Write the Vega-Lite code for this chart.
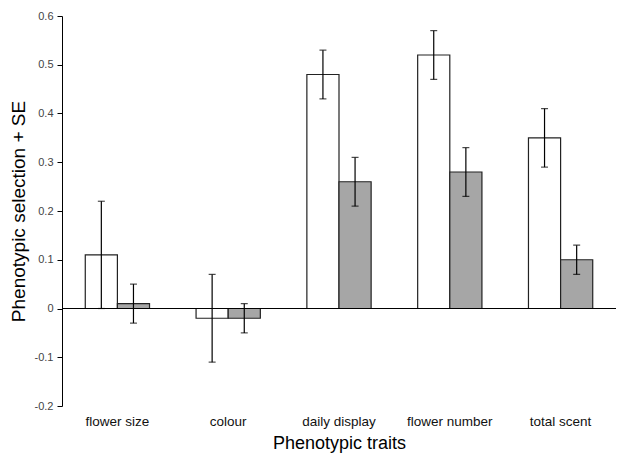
{
  "$schema": "https://vega.github.io/schema/vega-lite/v6.json",
  "width": 554,
  "height": 390,
  "autosize": "none",
  "padding": {"left": 62, "top": 16, "right": 13, "bottom": 60},
  "background": "white",
  "config": {"view": {"stroke": null}, "font": "Liberation Sans"},
  "data": {"values": [
    {"trait": "flower size", "group": "A", "value": 0.11, "lo": 0.0, "hi": 0.22},
    {"trait": "flower size", "group": "B", "value": 0.01, "lo": -0.03, "hi": 0.05},
    {"trait": "colour", "group": "A", "value": -0.02, "lo": -0.11, "hi": 0.07},
    {"trait": "colour", "group": "B", "value": -0.02, "lo": -0.05, "hi": 0.01},
    {"trait": "daily display", "group": "A", "value": 0.48, "lo": 0.43, "hi": 0.53},
    {"trait": "daily display", "group": "B", "value": 0.26, "lo": 0.21, "hi": 0.31},
    {"trait": "flower number", "group": "A", "value": 0.52, "lo": 0.47, "hi": 0.57},
    {"trait": "flower number", "group": "B", "value": 0.28, "lo": 0.23, "hi": 0.33},
    {"trait": "total scent", "group": "A", "value": 0.35, "lo": 0.29, "hi": 0.41},
    {"trait": "total scent", "group": "B", "value": 0.10, "lo": 0.07, "hi": 0.13}
  ]},
  "encoding": {
    "x": {
      "field": "trait", "type": "nominal",
      "sort": ["flower size", "colour", "daily display", "flower number", "total scent"],
      "scale": {"paddingInner": 0.42, "paddingOuter": 0.21},
      "axis": {
        "title": "Phenotypic traits", "labelAngle": 0, "domain": false, "ticks": false,
        "labelFontSize": 13.5, "labelColor": "#111", "labelPadding": 8,
        "titleFontSize": 18, "titleFontWeight": "normal", "titleColor": "#000", "titlePadding": 7
      }
    },
    "xOffset": {"field": "group", "type": "nominal", "scale": {"paddingInner": 0, "paddingOuter": 0}}
  },
  "layer": [
    {
      "mark": {"type": "bar", "stroke": "#222", "strokeWidth": 1.2},
      "encoding": {
        "y": {
          "field": "value", "type": "quantitative",
          "scale": {"domain": [-0.2, 0.6], "nice": false},
          "axis": {
            "title": "Phenotypic selection + SE", "values": [-0.2, -0.1, 0, 0.1, 0.2, 0.3, 0.4, 0.5, 0.6],
            "labelExpr": "datum.value == 0 ? '0' : replace(format(datum.value, '.1f'), '\u2212', '-')",
            "grid": false, "domainColor": "#000", "tickColor": "#000", "tickSize": 5,
            "labelFontSize": 11, "labelColor": "#444", "labelPadding": 4,
            "titleFontSize": 19, "titleFontWeight": "normal", "titleColor": "#000", "titlePadding": 6
          }
        },
        "fill": {"field": "group", "type": "nominal", "scale": {"domain": ["A", "B"], "range": ["#ffffff", "#a6a6a6"]}, "legend": null}
      }
    },
    {
      "mark": {"type": "rule", "color": "#000", "strokeWidth": 1.2},
      "encoding": {"y": {"field": "lo", "type": "quantitative"}, "y2": {"field": "hi"}}
    },
    {
      "mark": {"type": "tick", "color": "#000", "thickness": 1.2, "size": 7},
      "encoding": {"y": {"field": "lo", "type": "quantitative"}}
    },
    {
      "mark": {"type": "tick", "color": "#000", "thickness": 1.2, "size": 7},
      "encoding": {"y": {"field": "hi", "type": "quantitative"}}
    },
    {
      "data": {"values": [{"z": 0}]},
      "mark": {"type": "rule", "color": "#000", "strokeWidth": 1},
      "encoding": {"x": null, "xOffset": null, "y": {"field": "z", "type": "quantitative"}}
    }
  ]
}
